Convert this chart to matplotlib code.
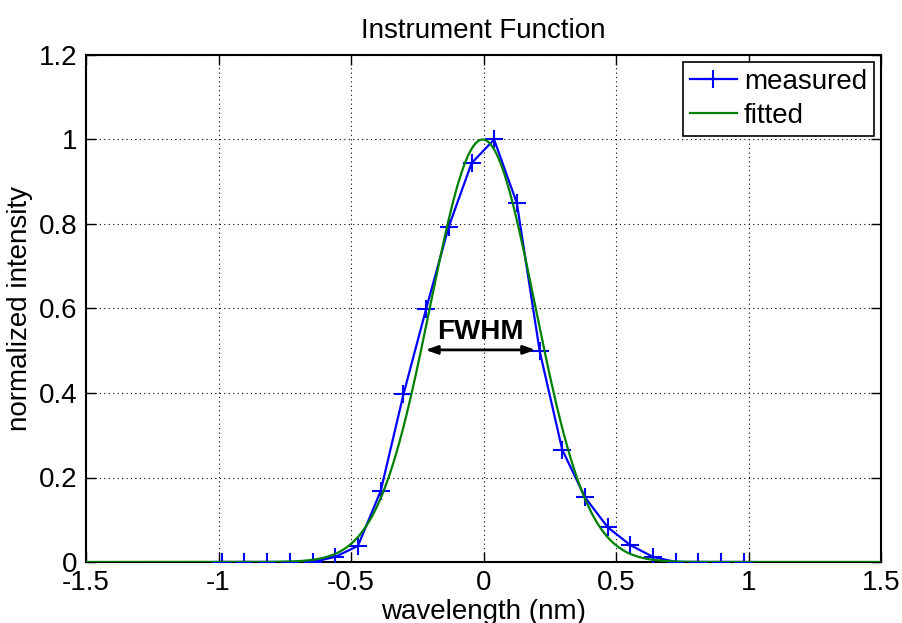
import matplotlib
matplotlib.use('Agg')
import matplotlib.pyplot as plt
import numpy as np

# ---- data ----
wavelength_measured = [-0.988, -0.902, -0.817, -0.731, -0.645, -0.560, -0.474, -0.388,
                       -0.302, -0.217, -0.131, -0.045, 0.040, 0.126, 0.212, 0.297,
                       0.383, 0.469, 0.554, 0.640, 0.726, 0.811, 0.897, 0.983]
intensity_measured = [0.0, 0.0, 0.0, 0.0, 0.0, 0.012, 0.038, 0.168,
                      0.397, 0.598, 0.794, 0.944, 1.0, 0.849, 0.499, 0.266,
                      0.153, 0.082, 0.040, 0.012, 0.0, 0.0, 0.0, 0.0]

# Gaussian fit parameters
fit_amplitude = 1.0
fit_center = -0.003
fit_sigma = 0.198

x_ticks = [-1.5, -1, -0.5, 0, 0.5, 1, 1.5]
x_tick_labels = ['-1.5', '-1', '-0.5', '0', '0.5', '1', '1.5']
y_ticks = [0, 0.2, 0.4, 0.6, 0.8, 1.0, 1.2]
y_tick_labels = ['0', '0.2', '0.4', '0.6', '0.8', '1', '1.2']

fwhm_left, fwhm_right, fwhm_level = -0.219, 0.196, 0.502

# ---- figure ----
plt.rcParams['font.family'] = ['Liberation Sans', 'DejaVu Sans']
fig = plt.figure(figsize=(9.02, 6.23), dpi=100)
W, H = 902, 623
ax = fig.add_axes([86 / W, 1 - 562 / H, (881 - 86) / W, (562 - 55) / H])

x_fit = np.linspace(-1.5, 1.5, 801)
y_fit = fit_amplitude * np.exp(-(x_fit - fit_center) ** 2 / (2 * fit_sigma ** 2))

ax.plot(wavelength_measured, intensity_measured, color='#0000ff', lw=1.6,
        marker='+', ms=13, mew=1.5, label='measured', zorder=3)
ax.plot(x_fit, y_fit, color='#008000', lw=1.6, label='fitted', zorder=3.1)

ax.set_xlim(-1.5, 1.5)
ax.set_ylim(0, 1.2)
ax.set_xticks(x_ticks)
ax.set_xticklabels(x_tick_labels)
ax.set_yticks(y_ticks)
ax.set_yticklabels(y_tick_labels)

ax.tick_params(direction='in', length=7, width=1, top=True, right=True,
               labelsize=20, pad=6)
for s in ax.spines.values():
    s.set_linewidth(1.5)
    s.set_zorder(2.5)
ax.grid(True, linestyle=(0, (1, 3)), color='black', linewidth=0.8)
ax.set_axisbelow(True)

ax.set_title('Instrument Function', fontsize=20, pad=12)
ax.set_xlabel('wavelength (nm)', fontsize=20, labelpad=2)
ax.set_ylabel('normalized intensity', fontsize=20, labelpad=4)

ax.annotate('', xy=(fwhm_left, fwhm_level), xytext=(fwhm_right, fwhm_level),
            arrowprops=dict(arrowstyle='<|-|>,head_length=0.7,head_width=0.25',
                            color='black', lw=2, shrinkA=0, shrinkB=0), zorder=5)
ax.text((fwhm_left + fwhm_right) / 2, 0.545, 'FWHM', ha='center', va='center',
        fontsize=20, fontweight='bold', zorder=5)

leg = ax.legend(loc='upper right', fontsize=20, fancybox=False, framealpha=1,
                edgecolor='black', borderaxespad=0.25, handlelength=1.7,
                handletextpad=0.25, borderpad=0.25, labelspacing=0.3)
leg.get_frame().set_linewidth(1.2)

fig.savefig('out.png', dpi=100)
